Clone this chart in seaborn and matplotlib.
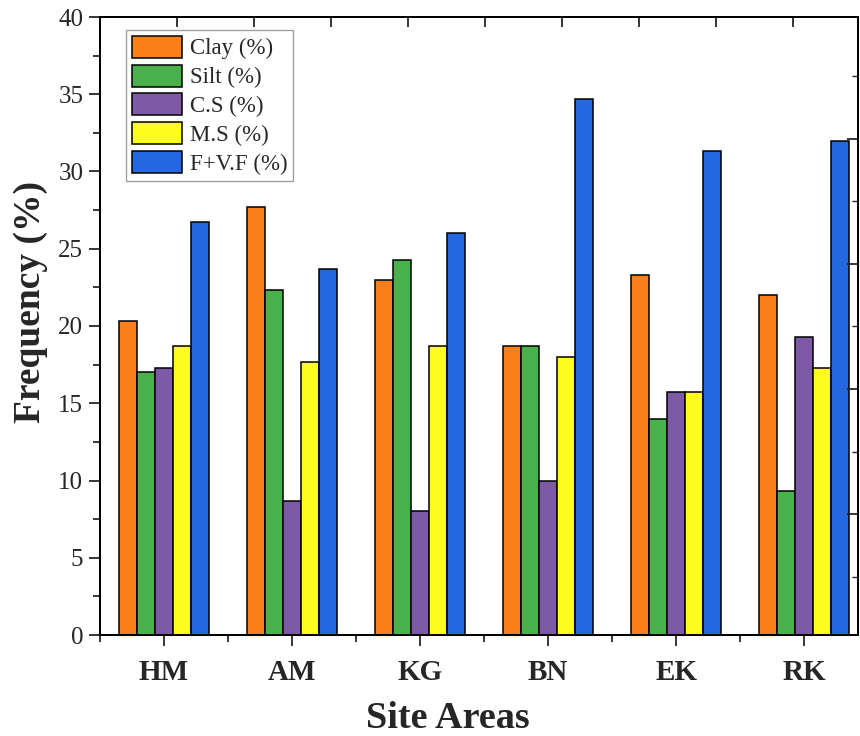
import matplotlib
matplotlib.use("Agg")
import matplotlib.pyplot as plt
from matplotlib.ticker import MultipleLocator, FixedLocator, NullFormatter
import seaborn as sns
import pandas as pd

sites = ["HM", "AM", "KG", "BN", "EK", "RK"]
fractions = ["Clay (%)", "Silt (%)", "C.S (%)", "M.S (%)", "F+V.F (%)"]
clay = [20.3, 27.7, 23.0, 18.7, 23.3, 22.0]
silt = [17.0, 22.3, 24.3, 18.7, 14.0, 9.3]
coarse_sand = [17.3, 8.7, 8.0, 10.0, 15.7, 19.3]
medium_sand = [18.7, 17.7, 18.7, 18.0, 15.7, 17.3]
fine_sand = [26.7, 23.7, 26.0, 34.7, 31.3, 32.0]
colors = ["#FB8019", "#49B04B", "#7D59A6", "#FEFC1E", "#2468E0"]

series = [clay, silt, coarse_sand, medium_sand, fine_sand]
rows = []
for name, vals in zip(fractions, series):
    for s, v in zip(sites, vals):
        rows.append({"Site": s, "Fraction": name, "Value": v})
df = pd.DataFrame(rows)

sns.set_theme(style="white")
plt.rcParams["font.family"] = ["Liberation Serif", "DejaVu Serif"]
plt.rcParams["mathtext.fontset"] = "stix"

fig = plt.figure(figsize=(8.6, 7.36), dpi=100)
ax = fig.add_axes([100 / 860, 1 - 635 / 736, 758 / 860, 618 / 736])

sns.barplot(data=df, x="Site", y="Value", hue="Fraction", hue_order=fractions,
            order=sites, palette=colors, saturation=1, width=0.7,
            edgecolor="black", linewidth=1.1, ax=ax, legend=False)

ax.set_xlim(-0.5, 5.42)
ax.set_ylim(0, 40)
ax.yaxis.set_major_locator(MultipleLocator(5))
ax.yaxis.set_minor_locator(MultipleLocator(2.5))
ax.xaxis.set_minor_locator(FixedLocator([i + 0.5 for i in range(-1, 6)]))
ax.tick_params(axis="both", which="both", direction="out", left=True, bottom=True,
               top=False, right=False)
ax.tick_params(axis="y", which="major", length=8, width=1.3, labelsize=18, pad=4)
ax.tick_params(axis="y", which="minor", length=5, width=1.3)
ax.tick_params(axis="x", which="major", length=8, width=1.3, labelsize=21, pad=9)
ax.tick_params(axis="x", which="minor", length=5, width=1.3)
for lab in ax.get_xticklabels():
    lab.set_fontweight("bold")
for sp in ax.spines.values():
    sp.set_linewidth(1.4)
    sp.set_color("black")

ax.set_ylabel("Frequency (%)", fontsize=27, fontweight="bold", va="center")
ax.yaxis.set_label_coords(-0.092, 0.539)
ax.set_xlabel("Site Areas", fontsize=27.5, fontweight="bold", va="center")
ax.xaxis.set_label_coords(0.459, -0.135)

# secondary scales: inward ticks on the right and top frame
axr = ax.twinx()
axr.set_ylim(0.032, 4.976)
axr.yaxis.set_major_locator(FixedLocator([1, 2, 3, 4]))
axr.yaxis.set_minor_locator(FixedLocator([0.5, 1.5, 2.5, 3.5, 4.5]))
axr.tick_params(axis="y", which="both", direction="in", right=True, labelright=False)
axr.tick_params(axis="y", which="major", length=8, width=1.3)
axr.tick_params(axis="y", which="minor", length=4, width=1.0)
axr.yaxis.set_minor_formatter(NullFormatter())
axr.grid(False)

axt = ax.twiny()
axt.set_xlim(0, 758 / 77)
axt.xaxis.set_major_locator(FixedLocator(list(range(1, 10))))
axt.tick_params(axis="x", which="both", direction="in", top=True, labeltop=False,
                length=7, width=1.3)
axt.grid(False)
for a in (axr, axt):
    for sp in a.spines.values():
        sp.set_linewidth(1.4)
        sp.set_color("black")

handles = [plt.Rectangle((0, 0), 1, 1, facecolor=c, edgecolor="black", linewidth=1.1)
           for c in colors]
leg = axt.legend(handles, fractions, loc="upper left", bbox_to_anchor=(0.034, 0.979),
                 bbox_transform=ax.transAxes,
                 fontsize=16.5, frameon=True, fancybox=False, borderpad=0.25,
                 handlelength=2.2, handleheight=1.1, labelspacing=0.22,
                 handletextpad=0.35, borderaxespad=0)
leg.get_frame().set_edgecolor("#888888")
leg.get_frame().set_linewidth(1.0)

fig.savefig("out.png", dpi=100)
